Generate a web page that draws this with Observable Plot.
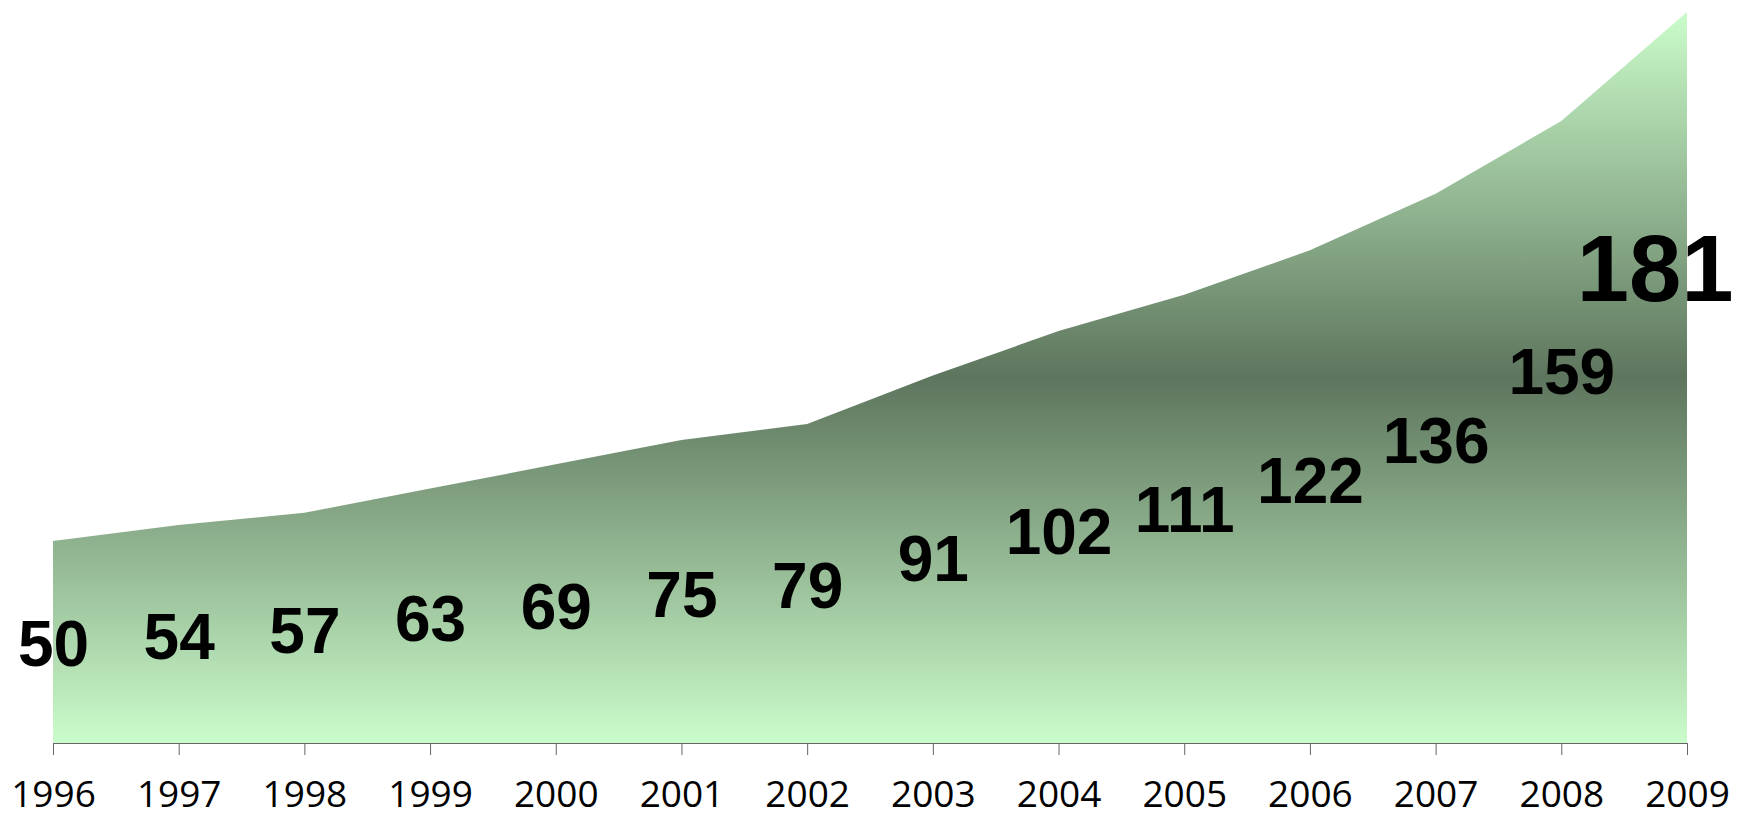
<!DOCTYPE html>
<html>
<head>
<meta charset="utf-8">
<script src="https://cdn.jsdelivr.net/npm/d3@7"></script>
<script src="https://cdn.jsdelivr.net/npm/@observablehq/plot@0.6"></script>
<style>
  html, body { margin: 0; padding: 0; background: #ffffff; }
</style>
</head>
<body>
<div id="chart"></div>
<script>
// ---- data ----
const years = [1996, 1997, 1998, 1999, 2000, 2001, 2002, 2003, 2004, 2005, 2006, 2007, 2008, 2009];
// height of the green area at each year
const areaValues = [50, 54, 57, 63, 69, 75, 79, 91, 102, 111, 122, 136, 154, 181];
// numbers printed in the chart
const labelValues = [50, 54, 57, 63, 69, 75, 79, 91, 102, 111, 122, 136, 159, 181];
const tickLabels = years.map(String);

const data = years.map((year, i) => ({ year, value: areaValues[i], label: labelValues[i] }));

// label placement: labels rise faster than linearly with their value
const labelBaseline = v => 0.3077 * v + 0.001486 * v * v;

const gradientDefs = () => {
  const defs = d3.create("svg:defs");
  const g = defs.append("linearGradient")
    .attr("id", "areaGrad")
    .attr("x1", 0).attr("y1", 0).attr("x2", 0).attr("y2", 1);
  g.append("stop").attr("offset", "0%").attr("stop-color", "#cbfccb");
  g.append("stop").attr("offset", "50%").attr("stop-color", "#5d755d");
  g.append("stop").attr("offset", "100%").attr("stop-color", "#cbfccb");
  return defs.node();
};

const chart = Plot.plot({
  width: 1737,
  height: 820,
  marginLeft: 53,
  marginRight: 50,
  marginTop: 12,
  marginBottom: 77,
  style: { background: "#ffffff", fontFamily: "Liberation Sans, Arial, sans-serif" },
  x: { domain: [1996, 2009] },
  y: { domain: [0, 181], axis: null },
  marks: [
    gradientDefs,
    Plot.areaY(data, { x: "year", y: "value", fill: "url(#areaGrad)", curve: "linear" }),
    Plot.ruleY([0], { stroke: "#666666", strokeWidth: 1 }),
    Plot.axisX({
      ticks: years,
      tickFormat: d => tickLabels[years.indexOf(d)],
      tickSize: 12,
      tickPadding: 25,
      stroke: "#666666",
      fill: "#000000",
      fontSize: 37,
      fontFamily: "Open Sans, sans-serif",
      label: null
    }),
    Plot.text(data, {
      filter: d => d.year !== 2009,
      x: "year",
      y: d => labelBaseline(d.label),
      text: d => String(d.label),
      lineAnchor: "bottom",
      fontSize: 64,
      fontWeight: "bold",
      fontFamily: "Liberation Sans, Arial, sans-serif",
      fill: "#000000"
    }),
    Plot.text(data, {
      filter: d => d.year === 2009,
      x: "year",
      y: d => labelBaseline(d.label),
      text: d => String(d.label),
      lineAnchor: "bottom",
      textAnchor: "end",
      dx: 46,
      dy: -21,
      fontSize: 94,
      fontWeight: "bold",
      fontFamily: "Liberation Sans, Arial, sans-serif",
      fill: "#000000"
    })
  ]
});
document.getElementById("chart").appendChild(chart);
</script>
</body>
</html>
